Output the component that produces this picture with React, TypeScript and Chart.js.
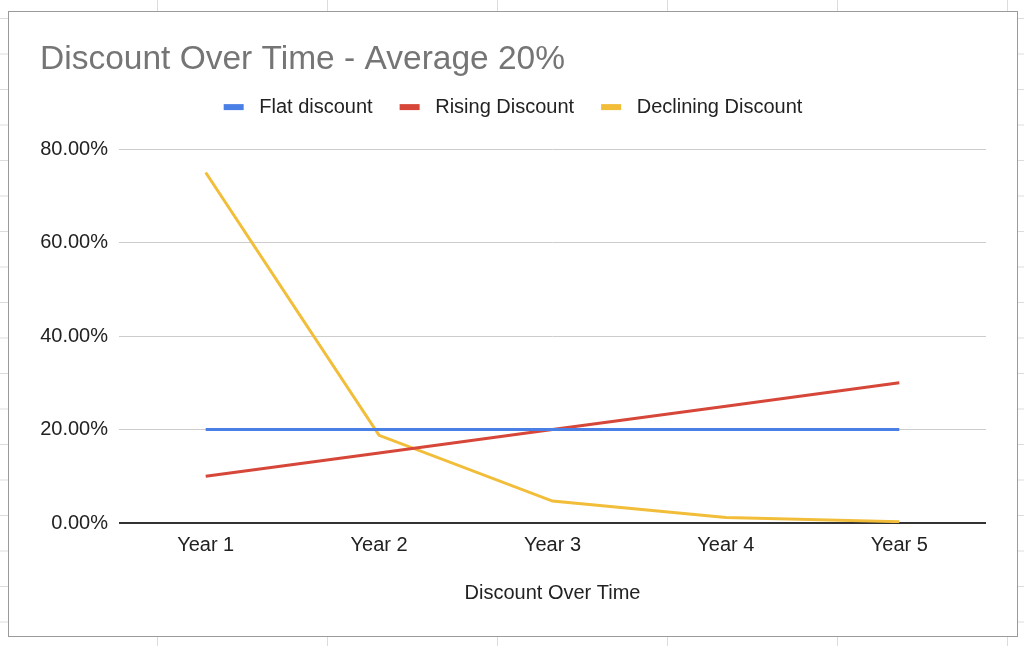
import { useEffect, useRef } from "react"
import { Chart, registerables } from "chart.js"

Chart.register(...registerables)

const categories = ["Year 1", "Year 2", "Year 3", "Year 4", "Year 5"]
const flatDiscount = [20, 20, 20, 20, 20]
const risingDiscount = [10, 15, 20, 25, 30]
const decliningDiscount = [75, 18.75, 4.69, 1.17, 0.29]
const yTicks = [0, 20, 40, 60, 80]

const FONT = "'Liberation Sans', Arial, Helvetica, sans-serif"

// 범례와 차트 사이 간격
const legendSpacing = {
  id: "legendSpacing",
  beforeInit(chart: any) {
    const legend = chart.legend
    if (!legend) return
    const origFit = legend.fit
    legend.fit = function () {
      origFit.call(this)
      this.height += 22
    }
  },
}

export default function App() {
  const chartRef = useRef<HTMLCanvasElement>(null)
  const chartInstance = useRef<Chart | null>(null)

  useEffect(() => {
    if (!chartRef.current) return
    if (chartInstance.current) chartInstance.current.destroy()

    const ctx = chartRef.current.getContext("2d")
    if (!ctx) return

    const series = [
      { label: "Flat discount", data: flatDiscount, color: "#4a80e6" },
      { label: "Rising Discount", data: risingDiscount, color: "#d6473a" },
      { label: "Declining Discount", data: decliningDiscount, color: "#f2bd38" },
    ]

    chartInstance.current = new Chart(ctx, {
      type: "line",
      data: {
        labels: categories,
        datasets: series.map((s) => ({
          label: s.label,
          data: s.data,
          borderColor: s.color,
          backgroundColor: s.color,
          borderWidth: 3,
          pointRadius: 0,
          pointHoverRadius: 0,
          fill: false,
          tension: 0,
        })),
      },
      options: {
        responsive: true,
        maintainAspectRatio: false,
        animation: false,
        layout: { padding: { left: 31, right: 31, top: 0, bottom: 0 } },
        plugins: {
          title: {
            display: true,
            text: "Discount Over Time - Average 20%",
            align: "start",
            color: "#757575",
            font: { family: FONT, size: 33.5, weight: "normal", lineHeight: 0.63 },
            padding: { top: 37, bottom: 0 },
          },
          legend: {
            display: true,
            position: "top",
            align: "center",
            labels: {
              boxWidth: 20,
              boxHeight: 6,
              padding: 27,
              color: "#222222",
              font: { family: FONT, size: 20 },
              generateLabels: (chart: any) =>
                Chart.defaults.plugins.legend.labels
                  .generateLabels(chart)
                  .map((item: any) => ({ ...item, text: " " + item.text, lineWidth: 0 })),
            },
          },
          tooltip: { enabled: false },
        },
        scales: {
          x: {
            type: "category",
            offset: true,
            grid: { display: false, drawTicks: false },
            border: { display: false },
            ticks: {
              color: "#222222",
              font: { family: FONT, size: 20 },
              padding: 10,
              maxRotation: 0,
            },
            title: {
              display: true,
              text: "Discount Over Time",
              color: "#222222",
              font: { family: FONT, size: 20 },
              padding: { top: 14, bottom: 31 },
            },
          },
          y: {
            min: 0,
            max: 80,
            afterBuildTicks: (scale: any) => {
              scale.ticks = yTicks.map((v) => ({ value: v }))
            },
            afterFit: (scale: any) => {
              scale.width = 79
            },
            grid: {
              drawTicks: false,
              color: (c: any) => (c.tick && c.tick.value === 0 ? "#333333" : "#cccccc"),
              lineWidth: (c: any) => (c.tick && c.tick.value === 0 ? 2 : 1),
            },
            border: { display: false },
            ticks: {
              color: "#222222",
              font: { family: FONT, size: 20 },
              padding: 11,
              callback: (v: any) => Number(v).toFixed(2) + "%",
            },
          },
        },
      },
      plugins: [legendSpacing],
    })

    return () => {
      if (chartInstance.current) {
        chartInstance.current.destroy()
        chartInstance.current = null
      }
    }
  }, [])

  return (
    <div
      style={{
        position: "fixed",
        inset: 0,
        background: "#ffffff",
        backgroundImage:
          "linear-gradient(to right, #dcdcdc 1px, transparent 1px), linear-gradient(to bottom, #dcdcdc 1px, transparent 1px)",
        backgroundSize: "170px 100%, 100% 35.5px",
        backgroundPosition: "157px 0, 0 18px",
      }}
    >
      <div
        style={{
          position: "absolute",
          left: 8,
          top: 11,
          width: 1010,
          height: 626,
          boxSizing: "border-box",
          border: "1px solid #9a9a9a",
          background: "#ffffff",
        }}
      >
        <div style={{ position: "relative", width: "100%", height: "100%" }}>
          <canvas ref={chartRef} />
        </div>
      </div>
    </div>
  )
}
